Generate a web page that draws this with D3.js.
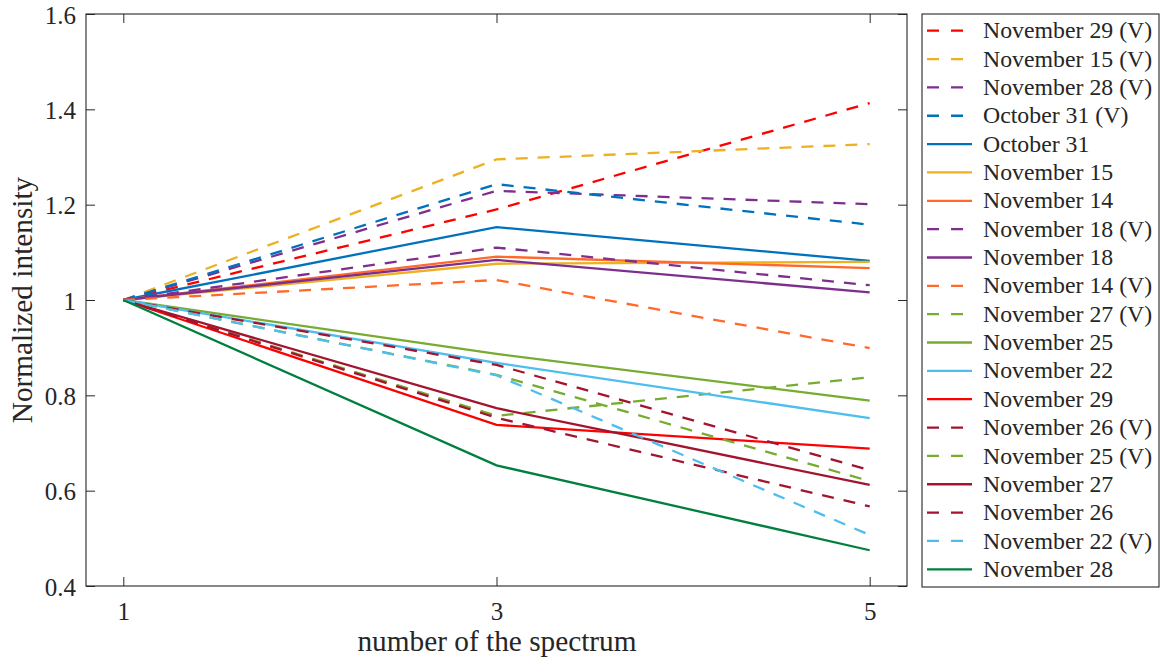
<!DOCTYPE html>
<html>
<head>
<meta charset="utf-8">
<script src="https://cdn.jsdelivr.net/npm/d3@7"></script>
<style>
  html, body { margin: 0; padding: 0; background: #ffffff; }
  svg { display: block; }
  text { font-family: "Liberation Serif", "Times New Roman", serif; fill: #262626; }
</style>
</head>
<body>
<div id="chart"></div>
<script>
// ---- data ----
const spectrumNumbers = [1, 3, 5];
const seriesNames = [
  "November 29 (V)", "November 15 (V)", "November 28 (V)", "October 31 (V)", "October 31",
  "November 15", "November 14", "November 18 (V)", "November 18", "November 14 (V)",
  "November 27 (V)", "November 25", "November 22", "November 29", "November 26 (V)",
  "November 25 (V)", "November 27", "November 26", "November 22 (V)", "November 28"
];
const seriesValues = [
  [1, 1.190, 1.413],
  [1, 1.295, 1.327],
  [1, 1.229, 1.201],
  [1, 1.243, 1.158],
  [1, 1.153, 1.082],
  [1, 1.076, 1.080],
  [1, 1.091, 1.067],
  [1, 1.110, 1.031],
  [1, 1.084, 1.016],
  [1, 1.042, 0.899],
  [1, 0.757, 0.838],
  [1, 0.887, 0.789],
  [1, 0.868, 0.752],
  [1, 0.738, 0.688],
  [1, 0.864, 0.643],
  [1, 0.843, 0.620],
  [1, 0.773, 0.612],
  [1, 0.753, 0.567],
  [1, 0.842, 0.507],
  [1, 0.653, 0.475]
];
const seriesColors = [
  "#FF0000", "#EDB120", "#7E2F8E", "#0072BD", "#0072BD",
  "#EDB120", "#FF6A2C", "#7E2F8E", "#7E2F8E", "#FF6A2C",
  "#77AC30", "#77AC30", "#4DBEEE", "#FF0000", "#A2142F",
  "#77AC30", "#A2142F", "#A2142F", "#4DBEEE", "#007F3F"
];
const seriesDashed = [
  true, true, true, true, false,
  false, false, true, false, true,
  true, false, false, false, true,
  true, false, true, true, false
];
const xTickValues = [1, 3, 5];
const yTickValues = [0.4, 0.6, 0.8, 1.0, 1.2, 1.4, 1.6];
const xLabel = "number of the spectrum";
const yLabel = "Normalized intensity";

// ---- layout ----
const W = 1163, H = 664;
const plot = { left: 86, right: 907, top: 14, bottom: 586 };
const legendBox = { left: 922, right: 1159, top: 14, bottom: 587 };

const svg = d3.select("#chart").append("svg")
  .attr("width", W).attr("height", H);

const x = d3.scaleLinear().domain([0.8, 5.2]).range([plot.left, plot.right]);
const y = d3.scaleLinear().domain([0.4, 1.6]).range([plot.bottom, plot.top]);

const fmt = d => (Math.abs(d - 1) < 1e-9 ? "1" : d3.format(".1f")(d));
const axisColor = "#262626";
const tickLen = 9;

// lines
const line = d3.line()
  .x((d, i) => x(spectrumNumbers[i]))
  .y(d => y(d));

const linesG = svg.append("g");
seriesValues.forEach((vals, k) => {
  linesG.append("path")
    .attr("d", line(vals))
    .attr("fill", "none")
    .attr("stroke", seriesColors[k])
    .attr("stroke-width", 2.3)
    .attr("stroke-dasharray", seriesDashed[k] ? "12,10" : null)
    .attr("stroke-linejoin", "miter");
});

// axes (ticks inward)
const bottomAxis = svg.append("g")
  .attr("transform", `translate(0,${plot.bottom})`)
  .call(d3.axisBottom(x).tickValues(xTickValues).tickFormat(d3.format("d"))
        .tickSizeInner(-tickLen).tickSizeOuter(0).tickPadding(0));
const topAxis = svg.append("g")
  .attr("transform", `translate(0,${plot.top})`)
  .call(d3.axisTop(x).tickValues(xTickValues).tickFormat("")
        .tickSizeInner(-tickLen).tickSizeOuter(0));
const leftAxis = svg.append("g")
  .attr("transform", `translate(${plot.left},0)`)
  .call(d3.axisLeft(y).tickValues(yTickValues).tickFormat(fmt)
        .tickSizeInner(-tickLen).tickSizeOuter(0).tickPadding(10));
const rightAxis = svg.append("g")
  .attr("transform", `translate(${plot.right},0)`)
  .call(d3.axisRight(y).tickValues(yTickValues).tickFormat("")
        .tickSizeInner(-tickLen).tickSizeOuter(0));

[bottomAxis, topAxis, leftAxis, rightAxis].forEach(g => {
  g.select(".domain").remove();
  g.selectAll(".tick line").attr("stroke", axisColor).attr("stroke-width", 1);
  g.selectAll(".tick text")
    .attr("fill", axisColor)
    .style("font-family", '"Liberation Serif", "Times New Roman", serif')
    .style("font-size", "25px");
});
bottomAxis.selectAll(".tick text").attr("dy", null).attr("y", 34);
leftAxis.selectAll(".tick text").attr("dy", "0.36em");

// plot box
svg.append("rect")
  .attr("x", plot.left).attr("y", plot.top)
  .attr("width", plot.right - plot.left).attr("height", plot.bottom - plot.top)
  .attr("fill", "none").attr("stroke", axisColor).attr("stroke-width", 1.1);

// axis labels
svg.append("text")
  .attr("x", (plot.left + plot.right) / 2 + 0.5).attr("y", 651)
  .attr("text-anchor", "middle")
  .style("font-size", "29.3px")
  .text(xLabel);
svg.append("text")
  .attr("transform", `translate(32,${(plot.top + plot.bottom) / 2}) rotate(-90)`)
  .attr("text-anchor", "middle")
  .style("font-size", "29.3px")
  .text(yLabel);

// legend
const lg = svg.append("g");
lg.append("rect")
  .attr("x", legendBox.left).attr("y", legendBox.top)
  .attr("width", legendBox.right - legendBox.left)
  .attr("height", legendBox.bottom - legendBox.top)
  .attr("fill", "#ffffff").attr("stroke", axisColor).attr("stroke-width", 1.1);

const legendY = d3.scalePoint().domain(seriesNames).range([30.7, 569.3]);
seriesNames.forEach((name, k) => {
  const yy = legendY(name);
  lg.append("line")
    .attr("x1", 927).attr("x2", 972)
    .attr("y1", yy).attr("y2", yy)
    .attr("stroke", seriesColors[k]).attr("stroke-width", 2.3)
    .attr("stroke-dasharray", seriesDashed[k] ? "12,12" : null);
  lg.append("text")
    .attr("x", 983).attr("y", yy + 7.6)
    .style("font-size", "23.8px")
    .text(name);
});
</script>
</body>
</html>
